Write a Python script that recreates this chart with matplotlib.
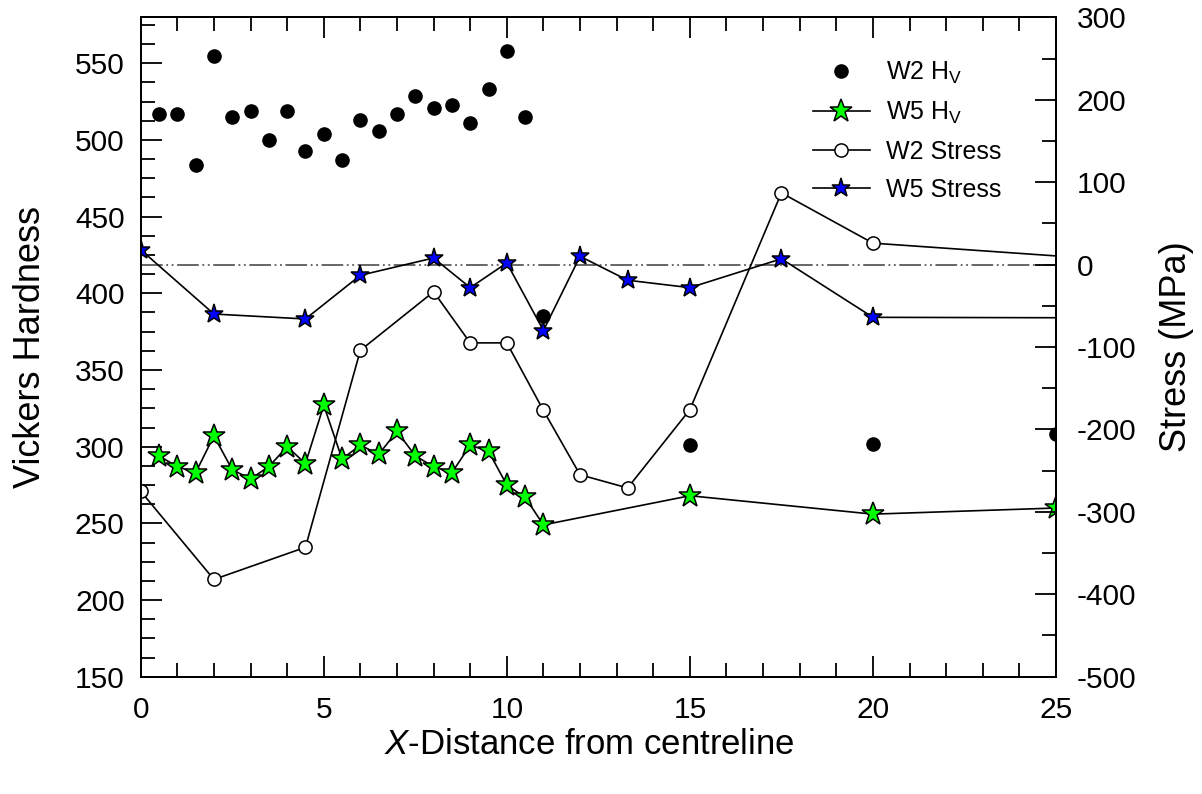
# Hardness and residual stress profiles across the weld

import numpy as np
import matplotlib
matplotlib.use('Agg')
from matplotlib import pyplot as plt
from matplotlib.ticker import MultipleLocator

plt.rcParams['font.family'] = ['Liberation Sans', 'DejaVu Sans']
plt.rcParams['mathtext.fontset'] = 'custom'
plt.rcParams['mathtext.rm'] = 'Liberation Sans'
plt.rcParams['mathtext.it'] = 'Liberation Sans:italic'
plt.rcParams['axes.unicode_minus'] = False

# Vickers hardness, W2 (black dots)
w2_hv_x = [0.5, 1, 1.5, 2, 2.5, 3, 3.5, 4, 4.5, 5, 5.5, 6, 6.5, 7, 7.5, 8, 8.5, 9, 9.5, 10, 10.5,
           11, 15, 20, 25]
w2_hv = [517, 517, 484, 555, 515, 519, 500, 519, 493, 504, 487, 513, 506, 517, 529, 521, 523, 511, 533, 558, 515,
         385, 301, 302, 308]

# Vickers hardness, W5 (green stars)
w5_hv_x = [0.5, 1, 1.5, 2, 2.5, 3, 3.5, 4, 4.5, 5, 5.5, 6, 6.5, 7, 7.5, 8, 8.5, 9, 9.5, 10, 10.5, 11,
           15, 20, 25]
w5_hv = [294, 287, 283, 307, 285, 279, 287, 300, 289, 327, 292, 301, 295, 310, 294, 287, 283, 301, 297, 275, 267, 249,
         268, 256, 260]

# Stress (MPa), last point lies past the right edge of the plot
stress_x = [0, 2, 4.5, 6, 8, 9, 10, 11, 12, 13.3, 15, 17.5, 20, 30]
w2_stress = [-275, -382, -343, -104, -33, -95, -95, -177, -255, -271, -176, 87, 26, -5]
w5_stress = [18, -60, -66, -13, 8, -28, 2, -80, 10, -19, -28, 7, -64, -65]

fig = plt.figure(figsize=(12.02, 7.94), dpi=100)
ax1 = fig.add_axes([140.7 / 1202, 1 - 676.7 / 794, 915.3 / 1202, 659.4 / 794])
ax2 = ax1.twinx()

h1, = ax1.plot(w2_hv_x, w2_hv, linestyle='none', marker='o', markersize=9.5,
               color='black', label='W2 H$_\\mathrm{V}$')
h2, = ax1.plot(w5_hv_x, w5_hv, color='black', linewidth=1.2, marker='*', markersize=17,
               markerfacecolor='#00ff00', markeredgecolor='black', markeredgewidth=1.1,
               label='W5 H$_\\mathrm{V}$')

ax2.axhline(0, color='#5a5a5a', linewidth=1.3, dashes=(12, 2, 1, 2, 1, 2), zorder=1)
h3, = ax2.plot(stress_x, w2_stress, color='black', linewidth=1.2, marker='o', markersize=9.5,
               markerfacecolor='white', markeredgecolor='black', markeredgewidth=1.1,
               label='W2 Stress')
h4, = ax2.plot(stress_x, w5_stress, color='black', linewidth=1.2, marker='*', markersize=14,
               markerfacecolor='#0000ff', markeredgecolor='black', markeredgewidth=1.1,
               label='W5 Stress')

ax1.set_xlim(0, 25)
ax1.set_ylim(150, 580)
ax2.set_ylim(-500, 300)

ax1.xaxis.set_major_locator(MultipleLocator(5))
ax1.xaxis.set_minor_locator(MultipleLocator(1))
ax1.set_yticks(np.arange(150, 551, 50))
ax1.yaxis.set_minor_locator(MultipleLocator(12.5))
ax2.set_yticks(np.arange(-500, 301, 100))
ax2.yaxis.set_minor_locator(MultipleLocator(50))

for ax in (ax1, ax2):
    for s in ax.spines.values():
        s.set_linewidth(1.4)
ax1.tick_params(which='both', direction='in', top=True, right=False, width=1.3, labelsize=21.5)
ax1.tick_params(which='major', length=15)
ax1.tick_params(which='minor', length=10)
ax1.tick_params(axis='y', pad=11.5)
ax1.tick_params(axis='x', pad=14)
ax2.tick_params(which='both', direction='in', width=1.3, labelsize=21.5, pad=15)
ax2.tick_params(which='major', length=15)
ax2.tick_params(which='minor', length=10)

ax1.set_xlabel('$\\it{X}$-Distance from centreline', fontsize=25)
ax1.set_ylabel('Vickers Hardness', fontsize=26)
ax2.set_ylabel('Stress (MPa)', fontsize=26)
ax1.yaxis.set_label_coords(-0.101, 0.5)
ax2.yaxis.set_label_coords(1.112, 0.5)
ax1.xaxis.set_label_coords(0.49, -0.078)

ax2.legend(handles=[h1, h2, h3, h4], loc='upper left', bbox_to_anchor=(0.734, 0.935),
           frameon=False, fontsize=18, handlelength=2.3, handletextpad=0.65,
           labelspacing=0.55, borderpad=0, borderaxespad=0)

plt.savefig('out.png', dpi=100)
